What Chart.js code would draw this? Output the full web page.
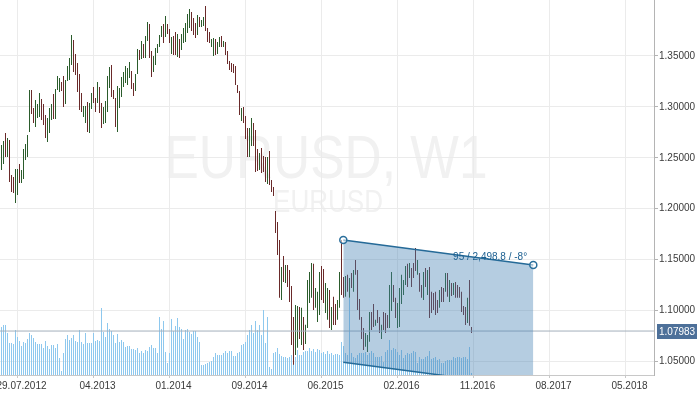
<!DOCTYPE html>
<html lang="en">
<head>
<meta charset="UTF-8">
<title>EURUSD, W1</title>
<script src="https://cdn.jsdelivr.net/npm/chart.js"></script>
<style>
  html, body { margin: 0; padding: 0; background: #fff; }
  canvas { display: block; }
</style>
</head>
<body>
<canvas id="chartCanvas" width="700" height="394"></canvas>
<script>
// weekly bars, one per week from mid 2012 to 11.2016 (index = week number)
const highs = [
  1.2626,1.2665,1.2744,1.2695,1.2675,1.2331,1.2312,1.2390,1.2390,1.2440,
  1.2381,1.2587,1.2636,1.2724,1.3166,1.3166,1.2989,1.3068,1.3029,1.3137,
  1.3078,1.3029,1.2921,1.2891,1.2989,1.3029,1.3127,1.3176,1.3304,1.3284,
  1.3245,1.3304,1.3264,1.3402,1.3480,1.3706,1.3657,1.3520,1.3431,1.3323,
  1.3137,1.3009,1.3009,1.3048,1.3039,1.3137,1.3196,1.3088,1.3245,1.3196,
  1.3039,1.2999,1.3058,1.3304,1.3392,1.3412,1.3166,1.3088,1.3206,1.3186,
  1.3294,1.3343,1.3402,1.3382,1.3441,1.3353,1.3235,1.3323,1.3569,1.3559,
  1.3647,1.3618,1.3696,1.3834,1.3814,1.3549,1.3500,1.3579,1.3618,1.3706,
  1.3795,1.3814,1.3893,1.3814,1.3765,1.3687,1.3696,1.3736,1.3716,1.3667,
  1.3716,1.3775,1.3824,1.3913,1.3962,1.3932,1.3873,1.3824,1.3903,1.3883,
  1.3854,1.3883,1.3991,1.3775,1.3736,1.3667,1.3677,1.3667,1.3638,1.3687,
  1.3696,1.3647,1.3638,1.3549,1.3451,1.3431,1.3422,1.3402,1.3215,1.3156,
  1.2989,1.2999,1.2911,1.2793,1.2793,1.2891,1.2842,1.2773,1.2587,1.2548,
  1.2597,1.2518,1.2508,1.2508,1.2567,1.2282,1.2214,1.1978,1.1870,1.1693,
  1.1428,1.1536,1.1448,1.1448,1.1399,1.1241,1.0937,1.1055,1.1045,1.1035,
  1.1026,1.0937,1.0859,1.1300,1.1379,1.1467,1.1458,1.1222,1.1183,1.1379,
  1.1438,1.1408,1.1271,1.1222,1.1202,1.1035,1.1134,1.1065,1.1104,1.1379,
  1.1693,1.1330,1.1340,1.1350,1.1320,1.1369,1.1399,1.1497,1.1399,1.1114,
  1.0937,1.0829,1.0780,1.0760,1.0986,1.0986,1.1065,1.0908,1.1006,1.0937,
  1.0859,1.0986,1.0976,1.0957,1.1251,1.1379,1.1251,1.1124,1.1074,1.1222,
  1.1350,1.1300,1.1438,1.1458,1.1467,1.1418,1.1467,1.1615,1.1497,1.1369,
  1.1251,1.1379,1.1418,1.1399,1.1428,1.1183,1.1173,1.1183,1.1104,1.1202,
  1.1232,1.1222,1.1369,1.1369,1.1300,1.1271,1.1271,1.1281,1.1251,1.1232,
  1.1183,1.1045,1.1035,1.1124,1.1300,1.0839
];
const lows = [
  1.2381,1.2440,1.2508,1.2508,1.2263,1.2165,1.2155,1.2057,1.2135,1.2253,
  1.2253,1.2292,1.2479,1.2508,1.2754,1.2931,1.2842,1.2803,1.2891,1.2901,
  1.2872,1.2823,1.2695,1.2656,1.2744,1.2872,1.2881,1.2881,1.3166,1.3147,
  1.3156,1.2999,1.3029,1.3255,1.3264,1.3412,1.3343,1.3314,1.3147,1.2970,
  1.2950,1.2901,1.2842,1.2754,1.2744,1.2980,1.3039,1.2950,1.3039,1.2940,
  1.2793,1.2832,1.2842,1.2950,1.3186,1.3097,1.3078,1.2803,1.2754,1.2989,
  1.3097,1.3196,1.3235,1.3215,1.3284,1.3176,1.3107,1.3156,1.3323,1.3461,
  1.3471,1.3480,1.3480,1.3647,1.3480,1.3294,1.3343,1.3412,1.3530,1.3588,
  1.3687,1.3628,1.3687,1.3716,1.3628,1.3520,1.3510,1.3510,1.3490,1.3480,
  1.3559,1.3628,1.3638,1.3726,1.3775,1.3746,1.3706,1.3677,1.3706,1.3785,
  1.3785,1.3795,1.3746,1.3638,1.3628,1.3588,1.3500,1.3510,1.3520,1.3588,
  1.3588,1.3588,1.3510,1.3422,1.3363,1.3343,1.3333,1.3215,1.3137,1.2921,
  1.2862,1.2842,1.2685,1.2508,1.2508,1.2616,1.2616,1.2361,1.2371,1.2381,
  1.2351,1.2361,1.2263,1.2243,1.2233,1.2165,1.2125,1.1762,1.1546,1.1124,
  1.1104,1.1281,1.1271,1.1232,1.1084,1.0662,1.0466,1.0564,1.0633,1.0721,
  1.0662,1.0613,1.0672,1.0829,1.1074,1.1124,1.1006,1.1026,1.0888,1.0957,
  1.1104,1.1074,1.0976,1.0908,1.0829,1.0809,1.0858,1.0858,1.0908,1.1026,
  1.1153,1.1124,1.1134,1.1183,1.1124,1.1222,1.1183,1.1350,1.1006,1.0908,
  1.0721,1.0613,1.0643,1.0593,1.0692,1.0809,1.0839,1.0849,1.0878,1.0780,
  1.0721,1.0809,1.0780,1.0829,1.0829,1.0996,1.1084,1.0927,1.0829,1.0839,
  1.1065,1.1153,1.1251,1.1232,1.1320,1.1232,1.1320,1.1389,1.1350,1.1183,
  1.1124,1.1104,1.1232,1.1153,1.0927,1.0976,1.1006,1.0957,1.0976,1.1026,
  1.1084,1.1084,1.1183,1.1134,1.1084,1.1143,1.1153,1.1124,1.1124,1.1124,
  1.0986,1.0957,1.0858,1.0878,1.0849,1.0780
];
// 1 = bullish week, -1 = bearish week
const direction = [
   1, 1,-1, 1,-1,-1,-1, 1, 1,-1,
   1, 1, 1, 1, 1,-1,-1, 1, 1, 1,
  -1,-1,-1, 1, 1, 1,-1, 1, 1, 1,
  -1,-1, 1, 1, 1, 1,-1,-1,-1,-1,
  -1, 1, 1,-1, 1, 1,-1,-1, 1,-1,
  -1, 1, 1, 1, 1,-1,-1,-1, 1, 1,
   1, 1, 1, 1, 1,-1,-1, 1, 1,-1,
   1,-1, 1, 1,-1,-1, 1, 1, 1, 1,
   1,-1, 1,-1,-1, 1,-1,-1, 1,-1,
   1, 1, 1, 1, 1,-1,-1,-1, 1,-1,
   1, 1,-1,-1,-1, 1, 1,-1, 1, 1,
  -1, 1,-1,-1,-1,-1,-1,-1,-1,-1,
   1,-1,-1,-1, 1, 1,-1,-1,-1, 1,
  -1,-1,-1, 1,-1,-1,-1,-1,-1,-1,
   1,-1, 1,-1,-1,-1,-1, 1, 1,-1,
   1,-1, 1, 1, 1, 1,-1, 1, 1, 1,
  -1,-1, 1, 1,-1, 1,-1,-1, 1, 1,
  -1,-1, 1,-1, 1,-1, 1,-1,-1,-1,
  -1,-1, 1, 1, 1,-1,-1, 1,-1,-1,
   1,-1,-1,-1, 1, 1,-1,-1, 1, 1,
   1, 1, 1,-1, 1,-1,-1,-1, 1,-1,
  -1, 1,-1, 1,-1,-1,-1,-1,-1, 1,
  -1,-1, 1,-1, 1,-1, 1,-1,-1,-1,
  -1,-1,-1, 1,-1,-1
];
// tick volume, thousands
const volumes = [
  48,50,50,42,32,32,31,45,38,34, 29,33,32,36,42,40,37,33,31,31,
  31,27,34,29,26,30,30,27,31,17,  4,22,36,40,35,37,40,34,33,45,
  33,31,42,32,32,32,42,34,35,34, 67,43,38,52,46,44,40,32,41,33,
  35,33,28,29,29,26,26,25,27,22, 24,22,25,24,28,30,27,27,22,58,
  46,54,23,12,22,56,44,49,57,48, 46,36,45,46,43,41,44,44,38,33,
  10,10,11,12,13,14,18,22,20,20, 20,22,24,22,24,24,19,19,22,23,
  30,31,33,40,45,50,42,54,45,50, 40,65,32,58, 8, 6,22,23,27,21,
  19,18,18,17,18,20,22,18,25,20, 20,23,24,24,27,24,26,23,26,25,
  22,23,21,24,21,22,20,21,21,20, 33,29,22,20,77,22,18,17,20,22,
  22,22,23,20,22,24,22,18,18,18, 19,13,23,25,35,25,27,26,23,20,
  25,17,20,22,21,22,24,23,12,18, 16,16,18,19,24,16,17,18,15,16,
  12,12,14,15,15,15,18,17,18,18, 17,18,18,16,28, 2
];

const dateTicks = [8, 46, 84, 122, 160, 198, 236, 274, 312];
const dateLabels = ['29.07.2012', '04.2013', '01.2014', '09.2014', '06.2015', '02.2016', '11.2016', '08.2017', '05.2018'];
const priceTicks = [1.05, 1.10, 1.15, 1.20, 1.25, 1.30, 1.35];
const lastPrice = 1.07983;

// drawn channel (bar index / price)
const channelX = [170.9, 265.9];
const channelTopY = [1.1692, 1.1447];
const channelBottomY = [1.0491, 1.0246];
const channelText = '95 / 2,498.8 / -8\u00b0';
const channelTextAt = [225.8, 1.1497];

const xMin = -0.75, xMax = 326.25;
const yMin = 1.03664, yMax = 1.405;

const upColor = '#2b5c2c';
const downColor = '#6a2a2a';
const volColor = '#8ec8ee';
const gridColor = '#ebebeb';
const textColor = '#3a3a3a';
const labelFont = { family: '"Liberation Sans", Arial, sans-serif', size: 10 };

const watermark = {
  id: 'watermark',
  beforeDraw(chart) {
    const ctx = chart.ctx;
    ctx.save();
    ctx.fillStyle = '#f1f1f1';
    ctx.textAlign = 'center';
    ctx.textBaseline = 'alphabetic';
    ctx.translate(326, 178);
    ctx.scale(0.83, 1);
    ctx.font = '62px "Liberation Sans", Arial, sans-serif';
    ctx.fillText('EURUSD, W1', 0, 0);
    ctx.restore();
    ctx.save();
    ctx.fillStyle = '#f1f1f1';
    ctx.textAlign = 'center';
    ctx.translate(328, 212);
    ctx.scale(0.84, 1);
    ctx.font = '31px "Liberation Sans", Arial, sans-serif';
    ctx.fillText('EURUSD', 0, 0);
    ctx.restore();
  }
};

const labels = {
  id: 'labels',
  afterDraw(chart) {
    const ctx = chart.ctx;
    const xs = chart.scales.x, ys = chart.scales.y;
    // channel measurement text
    ctx.save();
    ctx.fillStyle = '#1d6091';
    ctx.font = '10px "Liberation Sans", Arial, sans-serif';
    ctx.textAlign = 'left';
    ctx.textBaseline = 'alphabetic';
    ctx.fillText(channelText, xs.getPixelForValue(channelTextAt[0]), ys.getPixelForValue(channelTextAt[1]));
    // last price tag
    const py = ys.getPixelForValue(lastPrice);
    ctx.fillStyle = '#4d7099';
    ctx.fillRect(chart.chartArea.right + 3, Math.round(py) - 7, 40, 15);
    ctx.fillStyle = '#ffffff';
    ctx.textBaseline = 'middle';
    ctx.fillText(lastPrice.toFixed(5), chart.chartArea.right + 5, Math.round(py) + 1);
    ctx.restore();
  }
};

const ctx = document.getElementById('chartCanvas').getContext('2d');
new Chart(ctx, {
  type: 'bar',
  data: {
    datasets: [
      {
        type: 'line',
        label: 'channel top',
        data: channelX.map((x, i) => ({ x: x, y: channelTopY[i] })),
        borderColor: '#256a98',
        borderWidth: 1.5,
        backgroundColor: 'rgba(70,130,180,0.4)',
        fill: '+1',
        pointRadius: 3.5,
        pointBorderWidth: 1.5,
        pointBorderColor: '#2a6f9c',
        pointBackgroundColor: 'rgba(255,255,255,0.55)',
        order: 1
      },
      {
        type: 'line',
        label: 'channel bottom',
        data: channelX.map((x, i) => ({ x: x, y: channelBottomY[i] })),
        borderColor: '#256a98',
        borderWidth: 1.5,
        pointRadius: 0,
        fill: false,
        order: 0
      },
      {
        type: 'line',
        label: 'last price',
        data: [{ x: xMin, y: lastPrice }, { x: xMax, y: lastPrice }],
        borderColor: '#a3afbb',
        borderWidth: 1,
        pointRadius: 0,
        fill: false,
        order: 3
      },
      {
        label: 'EURUSD',
        data: highs.map((h, i) => ({ x: i, y: [lows[i], h] })),
        backgroundColor: direction.map(d => d > 0 ? upColor : downColor),
        barThickness: 1,
        maxBarThickness: 1,
        inflateAmount: 0,
        grouped: false,
        borderWidth: 0,
        yAxisID: 'y',
        order: 4
      },
      {
        label: 'Volume',
        data: volumes.map((v, i) => ({ x: i, y: v })),
        backgroundColor: volColor,
        barThickness: 1,
        maxBarThickness: 1,
        inflateAmount: 0,
        grouped: false,
        borderWidth: 0,
        yAxisID: 'yv',
        order: 5
      }
    ]
  },
  options: {
    responsive: false,
    animation: false,
    layout: { padding: 0, autoPadding: false },
    plugins: {
      legend: { display: false },
      tooltip: { enabled: false }
    },
    scales: {
      x: {
        type: 'linear',
        min: xMin,
        max: xMax,
        offset: false,
        afterBuildTicks: s => { s.ticks = dateTicks.map(v => ({ value: v })); },
        afterFit: s => { s.height = 19; s.paddingLeft = 0; s.paddingRight = 0; },
        ticks: {
          autoSkip: false,
          maxRotation: 0,
          labelOffset: 4,
          padding: 2,
          color: textColor,
          font: labelFont,
          callback: (v, i) => dateLabels[i]
        },
        grid: { color: gridColor, tickLength: 3, tickColor: '#c8c8c8', offset: false },
        border: { color: '#c8c8c8' }
      },
      y: {
        type: 'linear',
        position: 'right',
        min: yMin,
        max: yMax,
        afterBuildTicks: s => { s.ticks = priceTicks.map(v => ({ value: v })); },
        afterFit: s => { s.width = 46; s.paddingTop = 0; s.paddingBottom = 0; },
        ticks: {
          padding: 1,
          color: textColor,
          font: labelFont,
          callback: v => v.toFixed(5)
        },
        grid: { color: gridColor, tickLength: 4, tickColor: '#b4b4b4' },
        border: { color: '#b4b4b4' }
      },
      yv: {
        type: 'linear',
        display: false,
        min: 0,
        max: 375
      }
    }
  },
  plugins: [watermark, labels]
});
</script>
</body>
</html>
